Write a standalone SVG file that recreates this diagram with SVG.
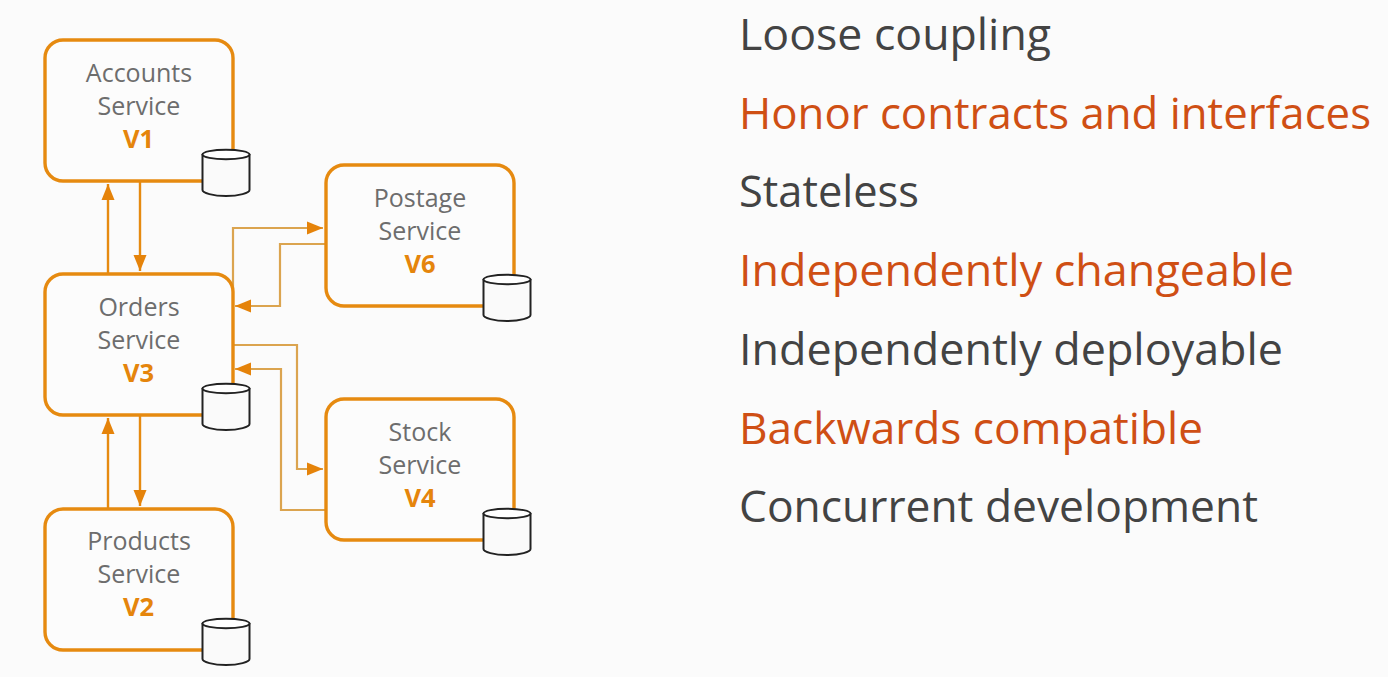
<svg xmlns="http://www.w3.org/2000/svg" width="1388" height="677" viewBox="0 0 1388 677">
<defs>
<marker id="ah" markerUnits="userSpaceOnUse" markerWidth="16" markerHeight="14" refX="16" refY="7" orient="auto"><path d="M0 0.500L16 7L0 13.500Z" fill="#e5830a"/></marker>
<g id="cyl"><path d="M0 6V41C0 44 10.500 47 23.500 47S47 44 47 41V6Z" fill="#fafafa" stroke="#222" stroke-width="2"/><ellipse cx="23.500" cy="5.500" rx="23.500" ry="4.800" fill="#fff" stroke="#222" stroke-width="2"/></g>
</defs>
<style>
.box{fill:#fcfcfc;stroke:#e68a10;stroke-width:3.400}
.lb{font:25px "Open Sans","Noto Sans",sans-serif;fill:#6d6d6d;text-anchor:middle}
.v{font:bold 25.500px "Open Sans","Noto Sans",sans-serif;fill:#e5850c;text-anchor:middle}
.t{font:44px "Open Sans","Noto Sans",sans-serif}
.k{fill:#434343}.o{fill:#cf4f14}
.c1{fill:none;stroke:#e68a10;stroke-width:2.400;marker-end:url(#ah)}
.c2{fill:none;stroke:#dba44f;stroke-width:2.200;marker-end:url(#ah)}
</style>
<rect width="1388" height="677" fill="#fbfbfb"/>
<g id="connectors">
<path class="c1" d="M108 274V184"/>
<path class="c1" d="M140 181V271"/>
<path class="c1" d="M108 508V418"/>
<path class="c1" d="M140 415V506"/>
<path class="c2" d="M233 292V228H323"/>
<path class="c2" d="M326 244H280V306H235"/>
<path class="c2" d="M233 345H297V469H323"/>
<path class="c2" d="M326 510H281V369H235"/>
</g>
<g id="accounts"><rect class="box" x="45" y="40" width="188" height="141" rx="18"/><text class="lb" x="139" y="82">Accounts</text><text class="lb" x="139" y="115">Service</text><text class="v" x="138.500" y="148">V1</text><use href="#cyl" x="202.500" y="149"/></g>
<g id="orders"><rect class="box" x="45" y="274" width="188" height="141" rx="18"/><text class="lb" x="139" y="316">Orders</text><text class="lb" x="139" y="349">Service</text><text class="v" x="138.500" y="382">V3</text><use href="#cyl" x="202.500" y="383"/></g>
<g id="products"><rect class="box" x="45" y="509" width="188" height="141" rx="18"/><text class="lb" x="139" y="550">Products</text><text class="lb" x="139" y="583">Service</text><text class="v" x="138.500" y="616">V2</text><use href="#cyl" x="202.500" y="618"/></g>
<g id="postage"><rect class="box" x="326" y="165" width="188" height="141" rx="18"/><text class="lb" x="420" y="207">Postage</text><text class="lb" x="420" y="240">Service</text><text class="v" x="420" y="273">V6</text><use href="#cyl" x="483.500" y="274"/></g>
<g id="stock"><rect class="box" x="326" y="399" width="188" height="141" rx="18"/><text class="lb" x="420" y="441">Stock</text><text class="lb" x="420" y="474">Service</text><text class="v" x="420" y="507">V4</text><use href="#cyl" x="483.500" y="508"/></g>
<g id="list">
<text class="t k" x="739" y="50" textLength="312" lengthAdjust="spacingAndGlyphs">Loose coupling</text>
<text class="t o" x="739" y="129" textLength="632" lengthAdjust="spacingAndGlyphs">Honor contracts and interfaces</text>
<text class="t k" x="739" y="207" textLength="180" lengthAdjust="spacingAndGlyphs">Stateless</text>
<text class="t o" x="739" y="286" textLength="555" lengthAdjust="spacingAndGlyphs">Independently changeable</text>
<text class="t k" x="739" y="365" textLength="544" lengthAdjust="spacingAndGlyphs">Independently deployable</text>
<text class="t o" x="739" y="444" textLength="464" lengthAdjust="spacingAndGlyphs">Backwards compatible</text>
<text class="t k" x="739" y="522" textLength="519" lengthAdjust="spacingAndGlyphs">Concurrent development</text>
</g>
</svg>
